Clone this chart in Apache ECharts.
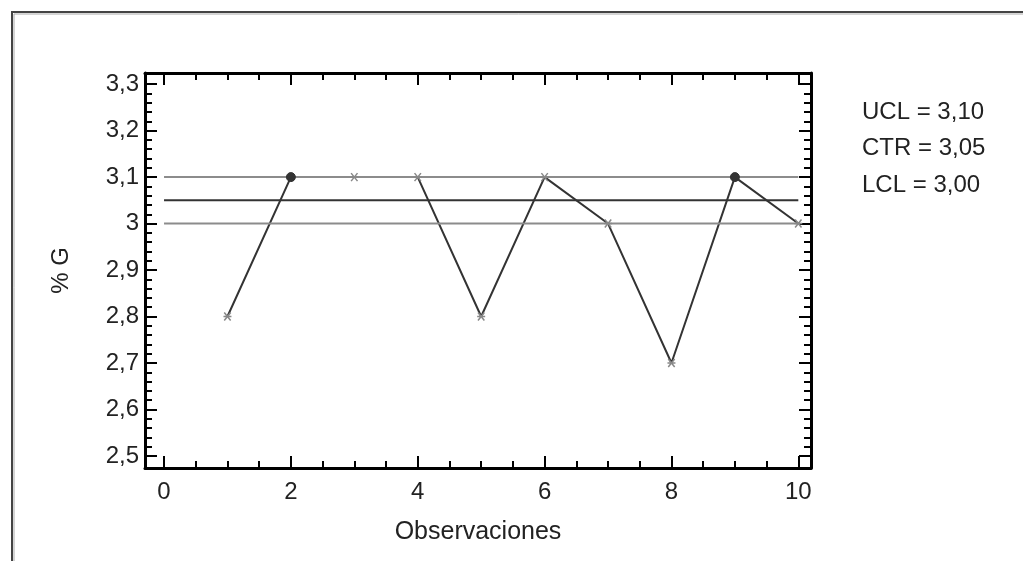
<!DOCTYPE html>
<html>
<head>
<meta charset="utf-8">
<script src="https://cdn.jsdelivr.net/npm/echarts@6/dist/echarts.min.js"></script>
<style>
  html, body { margin: 0; padding: 0; background: #fff; }
  #chart { width: 1023px; height: 561px; }
</style>
</head>
<body>
<div id="chart"></div>
<script>
// observaciones y valores de % G
const observaciones = [1, 2, 3, 4, 5, 6, 7, 8, 9, 10]
const valoresG = [2.8, 3.1, 3.1, 3.1, 2.8, 3.1, 3.0, 2.7, 3.1, 3.0]
// puntos marcados con circulo
const marcados = [2, 9]

// limites de control
const ucl = 3.10
const ctr = 3.05
const lcl = 3.00
const limiteTextos = ['UCL = 3,10', 'CTR = 3,05', 'LCL = 3,00']

// marcas de los ejes
const xMayores = [0, 2, 4, 6, 8, 10]
const xMenores = [0.5, 1, 1.5, 2.5, 3, 3.5, 4.5, 5, 5.5, 6.5, 7, 7.5, 8.5, 9, 9.5]
const yMayores = [2.5, 2.6, 2.7, 2.8, 2.9, 3.0, 3.1, 3.2, 3.3]
const yMenores = []
for (let i = 0; i < yMayores.length - 1; i++) {
  for (let k = 1; k < 5; k++) yMenores.push(+(yMayores[i] + k * 0.02).toFixed(2))
}

const fuente = 'Liberation Sans, Arial, sans-serif'
const aspa = 'path://M1,1L9,9M9,1L1,9M0,5L10,5'

const chart = echarts.init(document.getElementById('chart'))

// eje x: principal (abajo) + copias para marcas menores y el lado de arriba
const ejeX = (pos, marcas, largo, etiquetas, linea) => ({
  type: 'value',
  position: pos,
  min: -0.3,
  max: 10.2,
  splitLine: { show: false },
  axisLine: { show: linea, onZero: false, lineStyle: { color: '#000', width: 3 } },
  axisTick: { show: true, inside: true, length: largo, customValues: marcas, lineStyle: { color: '#000', width: 2 } },
  axisLabel: etiquetas
    ? { show: true, customValues: xMayores, color: '#222', fontFamily: fuente, fontSize: 24, margin: 12 }
    : { show: false }
})

const ejeY = (pos, marcas, largo, etiquetas, linea) => ({
  type: 'value',
  position: pos,
  min: 2.474,
  max: 3.324,
  splitLine: { show: false },
  axisLine: { show: linea, onZero: false, lineStyle: { color: '#000', width: 3 } },
  axisTick: { show: true, inside: true, length: largo, customValues: marcas, lineStyle: { color: '#000', width: 2 } },
  axisLabel: etiquetas
    ? {
        show: true,
        customValues: yMayores,
        color: '#222',
        fontFamily: fuente,
        fontSize: 24,
        margin: 6,
        formatter: (v) => (Math.round(v * 10) / 10).toString().replace('.', ',')
      }
    : { show: false }
})

const xPrincipal = ejeX('bottom', xMayores, 12, true, true)
xPrincipal.name = 'Observaciones'
xPrincipal.nameLocation = 'middle'
xPrincipal.nameGap = 52
xPrincipal.nameTextStyle = { color: '#222', fontFamily: fuente, fontSize: 25 }

const yPrincipal = ejeY('left', yMayores, 12, true, true)
yPrincipal.name = '% G'
yPrincipal.nameLocation = 'middle'
yPrincipal.nameGap = 72
yPrincipal.nameTextStyle = { color: '#222', fontFamily: fuente, fontSize: 24 }

const limite = (valor, color) => ({
  type: 'line',
  xAxisIndex: 0,
  yAxisIndex: 0,
  data: [[0, valor], [10, valor]],
  symbol: 'none',
  silent: true,
  lineStyle: { color: color, width: 2 }
})

const options = {
  animation: false,
  backgroundColor: '#fff',
  grid: { left: 145, top: 73, right: 212, bottom: 93 },
  xAxis: [
    xPrincipal,
    ejeX('bottom', xMenores, 7, false, false),
    ejeX('top', xMayores, 12, false, true),
    ejeX('top', xMenores, 7, false, false)
  ],
  yAxis: [
    yPrincipal,
    ejeY('left', yMenores, 7, false, false),
    ejeY('right', yMayores, 12, false, true),
    ejeY('right', yMenores, 7, false, false)
  ],
  series: [
    {
      type: 'line',
      xAxisIndex: 0,
      yAxisIndex: 0,
      data: observaciones.map((x, i) => {
        const circulo = marcados.includes(x)
        return {
          value: [x, valoresG[i]],
          symbol: circulo ? 'circle' : aspa,
          symbolSize: circulo ? 9 : 8,
          itemStyle: circulo
            ? { color: '#333', borderColor: '#333', borderWidth: 1 }
            : { color: '#888', borderColor: '#888', borderWidth: 1.5 }
        }
      }),
      lineStyle: { color: '#333', width: 2 }
    },
    limite(ucl, '#8c8c8c'),
    limite(ctr, '#333'),
    limite(lcl, '#8c8c8c')
  ],
  graphic: [
    // marco exterior
    {
      type: 'polyline',
      shape: { points: [[12, 561], [12, 12], [1023, 12]] },
      style: { fill: null, stroke: '#444', lineWidth: 2 }
    },
    {
      type: 'polyline',
      shape: { points: [[14, 561], [14, 14], [1023, 14]] },
      style: { fill: null, stroke: '#aaa', lineWidth: 1 }
    },
    ...limiteTextos.map((t, i) => ({
      type: 'text',
      left: 862,
      top: 100 + i * 36.5,
      style: { text: t, fill: '#222', font: '24px ' + fuente }
    }))
  ]
}

chart.setOption(options)
</script>
</body>
</html>
